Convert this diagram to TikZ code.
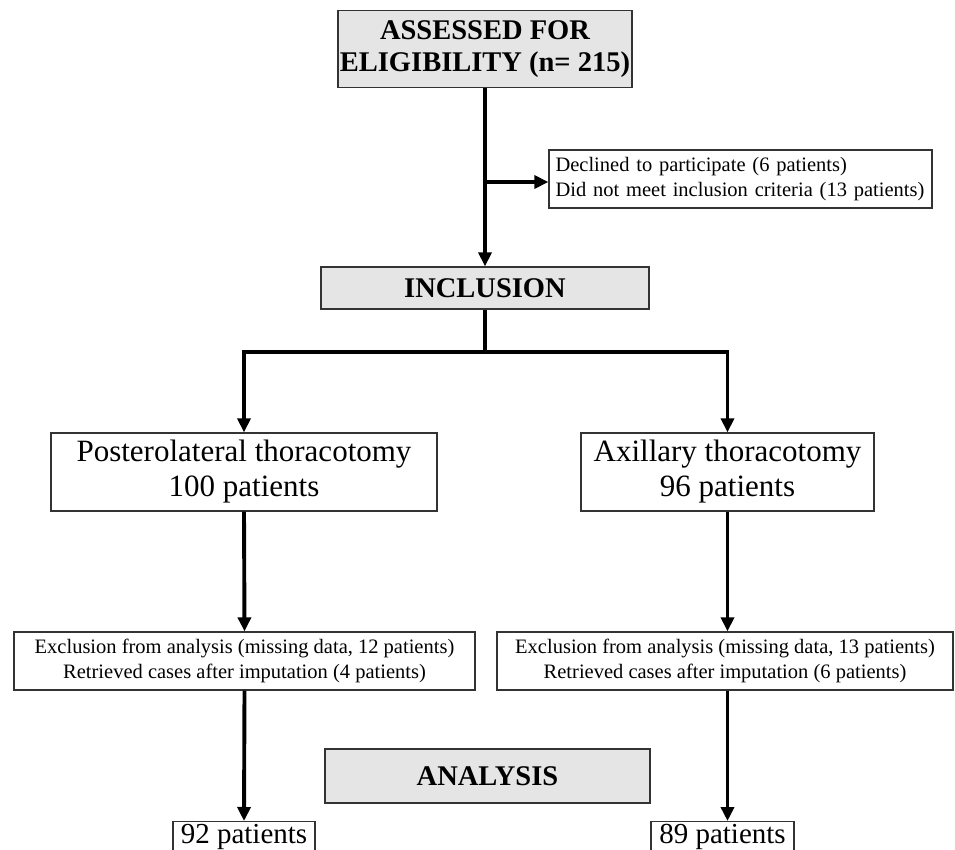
\documentclass[tikz,border=0pt]{standalone}
\usepackage{fontspec}
\setmainfont{Liberation Serif}
\usetikzlibrary{arrows.meta}
\begin{document}
\begin{tikzpicture}[x=1pt,y=-1pt,
  box/.style={draw=black!80, line width=1.3pt, inner sep=0pt, align=center, fill=white},
  graybox/.style={box, fill=black!10},
  head/.style={font=\fontsize{28.5}{32}\selectfont\bfseries},
  big/.style={font=\fontsize{31}{35}\selectfont},
  num/.style={font=\fontsize{29}{33}\selectfont},
  small/.style={font=\fontsize{20.5}{24.5}\selectfont},
  flow/.style={line width=3.9pt, line join=miter},
  arr/.style={flow, -{Triangle[length=14pt,width=13pt]}}]
\path[use as bounding box] (0,0) rectangle (955,850);
\clip (0,0) rectangle (955,850);
% nodes
\node[graybox, head, minimum width=294pt, minimum height=77pt] (assess) at (485,49) {ASSESSED FOR\\ELIGIBILITY (n= 215)};
\node[box, small, minimum width=383pt, minimum height=58pt, text width=370pt, align=left] (declined) at (740.5,179) {Declined to participate (6 patients)\\Did not meet inclusion criteria (13 patients)};
\node[graybox, head, minimum width=328pt, minimum height=42pt] (incl) at (485,288) {INCLUSION};
\node[box, big, minimum width=386pt, minimum height=78pt] (post) at (244,472) {Posterolateral thoracotomy\\100 patients};
\node[box, big, minimum width=293pt, minimum height=78pt] (axil) at (727.5,472) {Axillary thoracotomy\\96 patients};
\node[box, small, minimum width=461pt, minimum height=58pt] (exl) at (244.5,661) {Exclusion from analysis (missing data, 12 patients)\\Retrieved cases after imputation (4 patients)};
\node[box, small, minimum width=456pt, minimum height=58pt] (exr) at (725,661) {Exclusion from analysis (missing data, 13 patients)\\Retrieved cases after imputation (6 patients)};
\node[graybox, head, minimum width=325pt, minimum height=54pt] (anal) at (487.5,776) {ANALYSIS};
\node[box, num, anchor=north, minimum width=142pt, text height=20pt, text depth=8pt, inner ysep=2pt] (n92) at (244,821) {92 patients};
\node[box, num, anchor=north, minimum width=143pt, text height=20pt, text depth=8pt, inner ysep=2pt] (n89) at (722.5,821) {89 patients};
% connectors
\coordinate (branch) at (485,182);
\coordinate (split) at (485,352);
\draw[arr] (assess.south) -- (incl.north);
\draw[arr] (branch) -- (branch -| declined.west);
\draw[flow] (incl.south) -- (split);
\draw[arr] (split) -| (post.north);
\draw[arr] (split) -| (axil.north);
\draw[arr] (post.south) -- (exl.north);
\draw[arr] (axil.south) -- (axil.south |- exr.north);
\draw[arr] (exl.south) -- (n92.north);
\draw[arr] (exr.south -| axil.south) -- (axil.south |- n89.north);
\end{tikzpicture}
\end{document}
